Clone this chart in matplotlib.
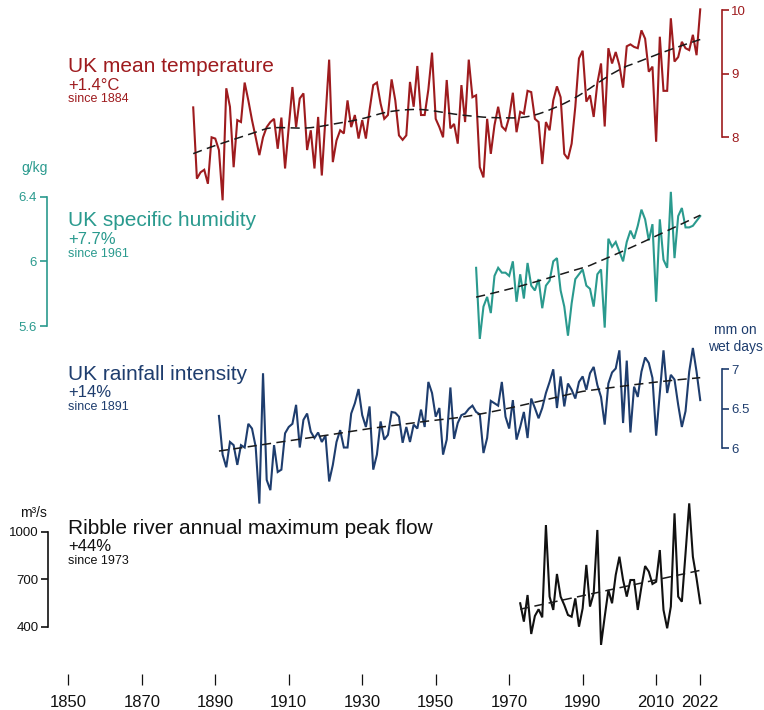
import numpy as np
import matplotlib
matplotlib.use("Agg")
import matplotlib.pyplot as plt

plt.rcParams['font.family'] = ['Liberation Sans', 'DejaVu Sans']

# ---- data ----
temp_years = np.arange(1884, 2023)
temp_vals = [8.47, 7.35, 7.45, 7.49, 7.27, 8.00, 7.98, 7.80, 7.01, 8.77,
             8.48, 7.53, 8.27, 8.24, 8.86, 8.58, 8.27, 8.00, 7.72, 8.00,
             8.16, 8.24, 8.29, 7.82, 8.31, 7.51, 8.16, 8.79, 8.16, 8.61,
             8.69, 7.80, 8.11, 7.51, 8.32, 7.40, 8.30, 9.22, 7.61, 7.95,
             8.11, 8.06, 8.58, 8.16, 8.35, 7.98, 8.27, 7.98, 8.43, 8.82,
             8.86, 8.53, 8.29, 8.35, 8.91, 8.58, 8.03, 7.96, 8.03, 8.87,
             8.48, 9.12, 8.35, 8.35, 8.75, 9.33, 8.29, 8.16, 8.00, 8.90,
             8.14, 8.21, 7.90, 8.82, 8.24, 9.22, 8.63, 8.66, 7.53, 7.37,
             8.29, 7.74, 8.19, 8.48, 8.17, 8.11, 8.32, 8.70, 8.08, 8.40,
             8.37, 8.73, 8.71, 8.29, 8.24, 7.58, 8.24, 8.11, 8.58, 8.80,
             8.63, 7.74, 7.66, 7.90, 8.48, 9.24, 9.36, 8.56, 8.66, 8.32,
             8.85, 9.16, 8.17, 9.40, 9.16, 9.34, 9.13, 8.78, 9.43, 9.46,
             9.42, 9.40, 9.68, 9.55, 9.03, 9.11, 7.93, 9.58, 8.73, 8.73,
             9.87, 9.19, 9.26, 9.50, 9.40, 9.37, 9.61, 9.29, 10.01]

hum_years = np.arange(1961, 2023)
hum_vals = [5.96, 5.52, 5.72, 5.78, 5.68, 5.91, 5.96, 5.93, 5.93, 5.91,
            6.00, 5.75, 5.92, 5.77, 5.99, 5.85, 5.82, 5.89, 5.71, 5.85,
            5.88, 6.00, 6.02, 5.82, 5.72, 5.54, 5.74, 5.89, 5.92, 5.95,
            5.85, 5.83, 5.72, 5.92, 5.95, 5.59, 6.14, 6.09, 6.12, 6.06,
            6.00, 6.12, 6.19, 6.14, 6.22, 6.32, 6.26, 6.13, 6.23, 5.75,
            6.26, 6.01, 5.96, 6.43, 6.02, 6.28, 6.33, 6.21, 6.21, 6.22,
            6.25, 6.28]

rain_years = np.arange(1891, 2023)
rain_vals = [6.41, 5.92, 5.76, 6.08, 6.04, 5.79, 6.04, 6.01, 6.31, 6.25,
             6.02, 5.30, 6.95, 5.60, 5.47, 6.04, 5.70, 5.73, 6.19, 6.27,
             6.31, 6.55, 6.01, 6.36, 6.44, 6.21, 6.13, 6.20, 6.08, 6.16,
             5.58, 5.79, 6.08, 6.23, 6.01, 6.01, 6.44, 6.57, 6.75, 6.42,
             6.27, 6.53, 5.73, 5.92, 6.34, 6.11, 6.17, 6.46, 6.45, 6.40,
             6.07, 6.27, 6.08, 6.30, 6.25, 6.49, 6.27, 6.84, 6.70, 6.40,
             6.51, 5.92, 6.11, 6.77, 6.12, 6.32, 6.42, 6.44, 6.50, 6.54,
             6.46, 6.43, 5.94, 6.13, 6.60, 6.57, 6.54, 6.84, 6.40, 6.25,
             6.61, 6.11, 6.27, 6.46, 6.13, 6.63, 6.51, 6.38, 6.51, 6.70,
             6.84, 7.00, 6.51, 6.91, 6.53, 6.82, 6.74, 6.63, 6.84, 6.91,
             6.74, 6.95, 7.03, 6.80, 6.65, 6.30, 6.82, 6.96, 7.01, 7.24,
             6.32, 7.11, 6.20, 6.78, 6.65, 6.97, 7.15, 7.08, 6.89, 6.16,
             6.70, 7.24, 6.70, 6.93, 6.87, 6.55, 6.27, 6.47, 6.97, 7.27,
             6.97, 6.61]

flow_years = np.arange(1973, 2023)
flow_vals = [548, 432, 600, 354, 468, 510, 459, 1042, 590, 506,
             733, 590, 537, 474, 463, 579, 400, 516, 790, 527,
             611, 1011, 285, 463, 632, 548, 727, 842, 695, 590,
             695, 695, 506, 653, 783, 748, 670, 684, 884, 506,
             390, 527, 1116, 590, 558, 863, 1179, 842, 705, 548]

x_ticks = [1850, 1870, 1890, 1910, 1930, 1950, 1970, 1990, 2010, 2022]

# ---- layout (pixels of a 764x710 canvas) ----
W, H = 764, 710
X0, PPY = 68.3, 3.674          # x pixel of 1850, pixels per year
XLIM = (1850 - X0 / PPY, 1850 + (W - X0) / PPY)


def ylim_from(v1, y1, v2, y2):
    s = (y2 - y1) / (v1 - v2)
    return (v1 - (H - y1) / s, v1 + y1 / s)


def lowess(x, y, frac, deg=1, iters=3):
    # local polynomial smoother with robustness iterations
    x = np.asarray(x, float)
    y = np.asarray(y, float)
    xc = x - x.mean()
    r = int(np.ceil(frac * len(x)))
    rob = np.ones_like(y)
    for it in range(iters + 1):
        out = []
        for xi in xc:
            d = np.abs(xc - xi)
            h = np.sort(d)[r - 1]
            w = (1 - np.clip(d / h, 0, 1) ** 3) ** 3 * rob
            c = np.polyfit(xc, y, deg, w=np.sqrt(w))
            out.append(np.polyval(c, xi))
        out = np.array(out)
        res = y - out
        s = np.median(np.abs(res))
        rob = (1 - np.clip(res / (6 * s), -1, 1) ** 2) ** 2
    return out


fig = plt.figure(figsize=(W / 100, H / 100), dpi=100)

panels = [
    dict(x=temp_years, y=temp_vals, c='#9e1b1e', anc=(10, 10, 8, 137.3), side='right',
         sx=721.7, ticks=[8, 9, 10], tl=['8', '9', '10'], trend=lowess(temp_years, temp_vals, 0.3),
         title='UK mean temperature', chg='+1.4°C', since='since 1884', ty=(66.7, 85, 99.5)),
    dict(x=hum_years, y=hum_vals, c='#2a9a8e', anc=(6.4, 196.7, 5.6, 326), side='left',
         sx=46.7, ticks=[5.6, 6, 6.4], tl=['5.6', '6', '6.4'], trend=lowess(hum_years, hum_vals, 1.0),
         title='UK specific humidity', chg='+7.7%', since='since 1961', ty=(220, 239.3, 253.5)),
    dict(x=rain_years, y=rain_vals, c='#1e3d6e', anc=(7, 369.3, 6, 448.3), side='right',
         sx=721.7, ticks=[6, 6.5, 7], tl=['6', '6.5', '7'], trend=lowess(rain_years, rain_vals, 0.5),
         title='UK rainfall intensity', chg='+14%', since='since 1891', ty=(374, 392.7, 407.5)),
    dict(x=flow_years, y=flow_vals, c='#111111', anc=(1000, 531.7, 400, 626.7), side='left',
         sx=48.3, ticks=[400, 700, 1000], tl=['400', '700', '1000'],
         trend=np.polyval(np.polyfit(flow_years, flow_vals, 1), flow_years),
         title='Ribble river annual maximum peak flow', chg='+44%', since='since 1973',
         ty=(528.3, 546.7, 561)),
]

for i, p in enumerate(panels):
    ax = fig.add_axes([0, 0, 1, 1])
    ax.set_facecolor('none')
    ax.set_xlim(XLIM)
    ax.set_ylim(ylim_from(*p['anc']))
    ax.plot(p['x'], p['y'], color=p['c'], lw=1.5, solid_joinstyle='miter')
    ax.plot(p['x'], p['trend'], color='#1a1a1a', lw=1.1, ls=(0, (6, 3.5)))

    for s in ax.spines.values():
        s.set_visible(False)
    sp = ax.spines[p['side']]
    sp.set_visible(True)
    sp.set_position(('axes', p['sx'] / W))
    sp.set_bounds(p['ticks'][0], p['ticks'][-1])
    sp.set_color(p['c'])
    sp.set_linewidth(1.2)
    ax.yaxis.set_ticks_position(p['side'])
    ax.set_yticks(p['ticks'])
    ax.set_yticklabels(p['tl'])
    ax.tick_params(axis='y', colors=p['c'], labelsize=9.5, length=5, width=1.2, pad=2)

    if i == len(panels) - 1:
        ax.spines['bottom'].set_position(('axes', (H - 674) / H))
        ax.set_xticks(x_ticks)
        ax.tick_params(axis='x', colors='#111111', labelsize=12, length=8, width=0.9, pad=7)
    else:
        ax.set_xticks([])

    t1, t2, t3 = p['ty']
    fig.text(X0 / W, 1 - t1 / H, p['title'], color=p['c'], fontsize=15, va='center', ha='left')
    fig.text(X0 / W, 1 - t2 / H, p['chg'], color=p['c'], fontsize=12, va='center', ha='left')
    fig.text(X0 / W, 1 - t3 / H, p['since'], color=p['c'], fontsize=9, va='center', ha='left')

# unit labels
fig.text(35 / W, 1 - 168.3 / H, 'g/kg', color='#2a9a8e', fontsize=10, ha='center', va='center')
fig.text(735 / W, 1 - 338.5 / H, 'mm on\nwet days', color='#1e3d6e', fontsize=10,
         ha='center', va='center', linespacing=1.25)
fig.text(33 / W, 1 - 513 / H, 'm³/s', color='#111111', fontsize=10, ha='center', va='center')

fig.savefig('out.png', dpi=100)
